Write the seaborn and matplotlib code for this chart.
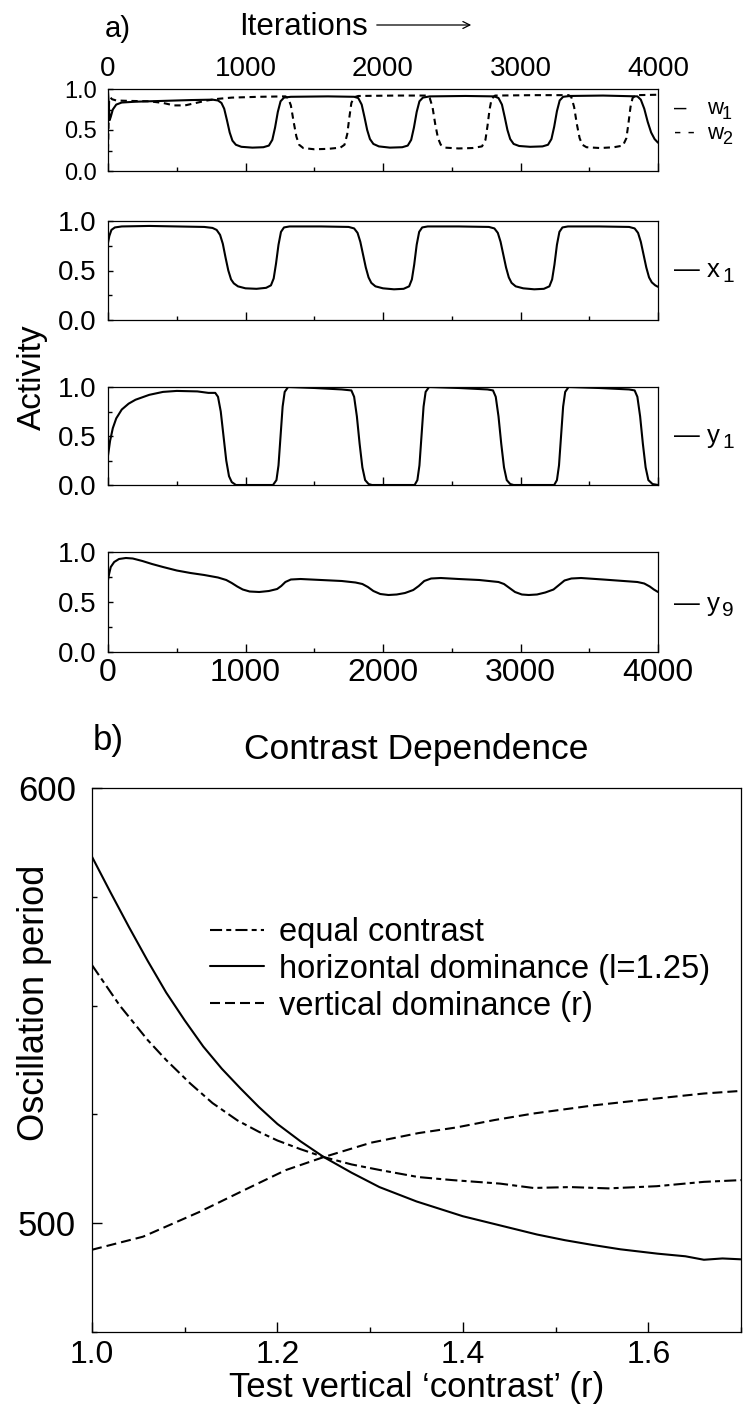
import matplotlib
matplotlib.use("Agg")
import matplotlib.pyplot as plt
from matplotlib.ticker import MultipleLocator, FormatStrFormatter
import seaborn as sns

# ---- panel a: activity traces (iteration, value) ----
w1_t = [0, 6, 12, 20, 35, 60, 100, 200, 400, 600, 760, 800, 825, 845, 865, 885, 905, 930, 970,
        1050, 1130, 1170, 1195, 1215, 1235, 1255, 1280, 1330, 1600, 1790, 1820, 1845, 1865, 1885,
        1905, 1930, 1970, 2050, 2140, 2180, 2205, 2225, 2245, 2265, 2290, 2340, 2600, 2810, 2840,
        2865, 2885, 2905, 2925, 2950, 2990, 3070, 3160, 3200, 3225, 3245, 3265, 3285, 3310, 3360,
        3600, 3850, 3875, 3900, 3925, 3950, 3975, 4000]
w1_v = [0.97, 0.80, 0.62, 0.66, 0.75, 0.81, 0.835, 0.845, 0.855, 0.865, 0.87, 0.86, 0.83, 0.76,
        0.62, 0.47, 0.37, 0.32, 0.295, 0.285, 0.29, 0.31, 0.38, 0.53, 0.72, 0.85, 0.895, 0.905,
        0.91, 0.905, 0.89, 0.81, 0.66, 0.50, 0.39, 0.33, 0.30, 0.285, 0.29, 0.31, 0.38, 0.53, 0.72,
        0.85, 0.895, 0.91, 0.915, 0.91, 0.89, 0.81, 0.66, 0.50, 0.39, 0.33, 0.305, 0.295, 0.30,
        0.32, 0.39, 0.54, 0.73, 0.86, 0.905, 0.915, 0.92, 0.91, 0.87, 0.76, 0.60, 0.47, 0.39, 0.345]

w2_t = [0, 4, 8, 15, 30, 60, 150, 300, 400, 480, 560, 640, 720, 800, 900, 1100, 1290, 1310, 1330,
        1350, 1370, 1390, 1420, 1500, 1600, 1690, 1720, 1740, 1755, 1770, 1790, 1820, 2100, 2320,
        2340, 2360, 2380, 2400, 2420, 2450, 2550, 2650, 2720, 2745, 2760, 2775, 2790, 2815, 3100,
        3350, 3370, 3390, 3410, 3430, 3450, 3480, 3580, 3680, 3745, 3770, 3785, 3800, 3815, 3840, 4000]
w2_v = [0.25, 0.55, 0.85, 0.90, 0.875, 0.86, 0.855, 0.85, 0.83, 0.80, 0.80, 0.83, 0.86, 0.88, 0.895,
        0.905, 0.91, 0.89, 0.80, 0.60, 0.42, 0.32, 0.28, 0.265, 0.27, 0.285, 0.32, 0.45, 0.65, 0.83,
        0.90, 0.915, 0.92, 0.92, 0.89, 0.78, 0.57, 0.40, 0.32, 0.285, 0.275, 0.28, 0.30, 0.38, 0.55,
        0.75, 0.88, 0.92, 0.925, 0.925, 0.90, 0.78, 0.57, 0.40, 0.32, 0.29, 0.28, 0.29, 0.31, 0.40,
        0.58, 0.78, 0.89, 0.925, 0.93]

x1_t = [0, 10, 25, 50, 100, 300, 500, 700, 760, 790, 815, 835, 855, 875, 895, 915, 945, 1000, 1080,
        1150, 1185, 1205, 1222, 1240, 1258, 1280, 1320, 1550, 1750, 1790, 1815, 1835, 1855, 1875,
        1895, 1915, 1945, 2000, 2080, 2150, 2190, 2210, 2227, 2245, 2263, 2285, 2325, 2550, 2770,
        2810, 2835, 2855, 2875, 2895, 2915, 2935, 2965, 3020, 3100, 3170, 3210, 3230, 3247, 3265,
        3283, 3305, 3345, 3570, 3790, 3830, 3855, 3875, 3895, 3915, 3935, 3955, 3980, 4000]
x1_v = [0.78, 0.85, 0.91, 0.935, 0.945, 0.95, 0.945, 0.94, 0.93, 0.91, 0.86, 0.77, 0.63, 0.50, 0.41,
        0.37, 0.34, 0.32, 0.315, 0.325, 0.35, 0.42, 0.57, 0.76, 0.89, 0.935, 0.945, 0.945, 0.94,
        0.925, 0.88, 0.79, 0.66, 0.53, 0.43, 0.375, 0.34, 0.32, 0.31, 0.315, 0.34, 0.41, 0.56, 0.76,
        0.89, 0.935, 0.945, 0.945, 0.94, 0.925, 0.88, 0.79, 0.66, 0.53, 0.43, 0.375, 0.34, 0.32,
        0.31, 0.315, 0.34, 0.41, 0.56, 0.76, 0.89, 0.935, 0.945, 0.945, 0.94, 0.925, 0.88, 0.79,
        0.66, 0.53, 0.43, 0.38, 0.35, 0.335]

y1_t = [0, 15, 35, 60, 100, 150, 200, 300, 400, 500, 650, 730, 780, 800, 820, 840, 860, 880, 900,
        930, 1200, 1225, 1240, 1255, 1270, 1285, 1310, 1500, 1700, 1770, 1790, 1810, 1830, 1850,
        1870, 1895, 1920, 2230, 2250, 2265, 2280, 2295, 2310, 2335, 2550, 2760, 2800, 2820, 2840,
        2860, 2880, 2900, 2925, 2950, 3245, 3265, 3280, 3295, 3310, 3325, 3350, 3570, 3790, 3830,
        3850, 3870, 3890, 3910, 3930, 3960, 4000]
y1_v = [0.30, 0.45, 0.58, 0.68, 0.77, 0.83, 0.87, 0.92, 0.95, 0.96, 0.955, 0.94, 0.94, 0.90, 0.75,
        0.50, 0.25, 0.09, 0.03, 0.0, 0.0, 0.05, 0.20, 0.50, 0.80, 0.95, 1.0, 0.99, 0.975, 0.965, 0.90,
        0.70, 0.42, 0.18, 0.05, 0.01, 0.0, 0.0, 0.05, 0.20, 0.50, 0.80, 0.95, 1.0, 0.99, 0.975, 0.965,
        0.90, 0.70, 0.42, 0.18, 0.05, 0.01, 0.0, 0.0, 0.05, 0.20, 0.50, 0.80, 0.95, 1.0, 0.99, 0.975,
        0.965, 0.90, 0.70, 0.42, 0.18, 0.05, 0.01, 0.0]

y9_t = [0, 8, 20, 45, 80, 130, 180, 250, 320, 400, 500, 600, 700, 800, 860, 900, 940, 980, 1030,
        1100, 1170, 1230, 1260, 1290, 1330, 1400, 1550, 1700, 1800, 1850, 1890, 1930, 1980, 2040,
        2100, 2160, 2220, 2260, 2300, 2350, 2420, 2550, 2700, 2840, 2880, 2920, 2960, 3010, 3060,
        3120, 3180, 3240, 3280, 3320, 3370, 3440, 3600, 3750, 3850, 3900, 3940, 3970, 4000]
y9_v = [0.72, 0.78, 0.85, 0.90, 0.93, 0.94, 0.935, 0.91, 0.88, 0.85, 0.815, 0.79, 0.77, 0.745,
        0.72, 0.69, 0.655, 0.625, 0.605, 0.60, 0.61, 0.63, 0.66, 0.70, 0.725, 0.73, 0.72, 0.71,
        0.695, 0.68, 0.65, 0.61, 0.58, 0.57, 0.575, 0.59, 0.62, 0.66, 0.71, 0.735, 0.74, 0.73,
        0.72, 0.70, 0.68, 0.64, 0.60, 0.575, 0.57, 0.575, 0.595, 0.625, 0.67, 0.715, 0.735, 0.74,
        0.725, 0.71, 0.70, 0.685, 0.655, 0.625, 0.60]

# ---- panel b: oscillation period vs test contrast ----
eq_r = [1.0, 1.03, 1.06, 1.08, 1.106, 1.13, 1.157, 1.18, 1.20, 1.225, 1.25, 1.28, 1.311, 1.352,
        1.389, 1.44, 1.476, 1.516, 1.557, 1.609, 1.66, 1.70]
eq_p = [559.3, 550.0, 542.1, 537.5, 532.1, 527.6, 523.6, 521.0, 519.0, 517.0, 515.2, 513.5, 512.2,
        510.6, 509.9, 509.1, 508.1, 508.3, 508.0, 508.5, 509.5, 509.9]

hor_r = [1.0, 1.02, 1.04, 1.06, 1.08, 1.10, 1.12, 1.14, 1.16, 1.18, 1.20, 1.225, 1.25, 1.28, 1.31,
         1.35, 1.40, 1.44, 1.48, 1.51, 1.54, 1.57, 1.61, 1.64, 1.66, 1.68, 1.70]
hor_p = [584.2, 576.0, 568.0, 560.3, 553.0, 546.6, 540.6, 535.5, 531.0, 526.7, 522.8, 518.8, 515.2,
         511.6, 508.3, 505.0, 501.6, 499.5, 497.4, 496.1, 495.0, 494.0, 493.0, 492.4, 491.6, 491.9,
         491.7]

ver_r = [1.0, 1.055, 1.116, 1.168, 1.209, 1.25, 1.301, 1.352, 1.393, 1.434, 1.476, 1.542, 1.593,
         1.66, 1.70]
ver_p = [493.9, 496.9, 502.6, 508.0, 512.2, 515.2, 518.5, 520.7, 522.0, 523.7, 525.2, 527.1, 528.3,
         529.8, 530.4]

sns.set_theme(style="ticks")
plt.rcParams["font.family"] = ["Liberation Sans", "DejaVu Sans"]
plt.rcParams.update({
    "axes.edgecolor": "black", "axes.linewidth": 0.9, "text.color": "black",
    "axes.labelcolor": "black", "xtick.color": "black", "ytick.color": "black",
})

W, H = 745, 1406
fig = plt.figure(figsize=(W / 100, H / 100), dpi=100)


def rect(left, top, right, bottom):
    return [left / W, 1 - bottom / H, (right - left) / W, (bottom - top) / H]


def fx(px):
    return px / W


def fy(py):
    return 1 - py / H


SOLID = "-"
W_DASH = (0, (3.0, 2.2))

panels = [
    (rect(108, 89, 658, 171), [(w1_t, w1_v, SOLID), (w2_t, w2_v, W_DASH)], 17),
    (rect(108, 221, 658, 320), [(x1_t, x1_v, SOLID)], 20),
    (rect(108, 387, 658, 485), [(y1_t, y1_v, SOLID)], 20),
    (rect(108, 552, 658, 652), [(y9_t, y9_v, SOLID)], 20),
]

for i, (pos, curves, ysize) in enumerate(panels):
    ax = fig.add_axes(pos)
    for t, v, ls in curves:
        sns.lineplot(x=t, y=v, ax=ax, color="black", lw=1.5, linestyle=ls,
                     estimator=None, sort=False)
    ax.set_xlim(0, 4000)
    ax.set_ylim(0, 1)
    ax.xaxis.set_major_locator(MultipleLocator(1000))
    ax.xaxis.set_minor_locator(MultipleLocator(500))
    ax.yaxis.set_major_locator(MultipleLocator(0.5))
    ax.yaxis.set_minor_locator(MultipleLocator(0.25))
    ax.yaxis.set_major_formatter(FormatStrFormatter("%.1f"))
    ax.tick_params(which="both", direction="in", top=False, right=False)
    ax.tick_params(axis="x", which="major", length=6, width=1)
    ax.tick_params(axis="x", which="minor", length=3, width=1)
    ax.tick_params(axis="y", which="major", length=3.5, width=1, labelsize=ysize, pad=8)
    ax.tick_params(axis="y", which="minor", length=3, width=1)
    if i == 0:
        ax.tick_params(axis="x", labeltop=True, labelbottom=False, labelsize=20, pad=5)
    elif i == 3:
        ax.tick_params(axis="x", labelsize=23, pad=4)
    else:
        ax.tick_params(axis="x", labelbottom=False)
    ax.set_xlabel("")
    ax.set_ylabel("")

# curve names on the right of panel a: (dash, letter, subscript, baseline px, size, sub size)
names = [("–", "w", "1", 114, 16, 13), ("- -", "w", "2", 139, 16, 13),
         ("—", "x", "1", 277, 18.5, 15), ("—", "y", "1", 443.5, 18.5, 15),
         ("—", "y", "9", 611, 18.5, 15)]
for dash, letter, sub, base, size, subsize in names:
    fig.text(fx(674), fy(base), dash, fontsize=size, va="baseline", ha="left")
    fig.text(fx(707), fy(base), letter, fontsize=size, va="baseline", ha="left")
    fig.text(fx(722), fy(base + 5), sub, fontsize=subsize, va="baseline", ha="left")

fig.text(fx(105), fy(37), "a)", fontsize=21, va="baseline", ha="left")
fig.text(fx(239), fy(35), "Iterations", fontsize=22.5, va="baseline", ha="left")
fig.add_artist(matplotlib.patches.FancyArrowPatch(
    (fx(374), fy(25)), (fx(474), fy(25)), transform=fig.transFigure,
    arrowstyle="->,head_length=5,head_width=2.5", lw=0.9, color="black"))
fig.text(fx(32), fy(377), "Activity", fontsize=24, rotation=90, ha="center", va="center")

# ---- panel b ----
axb = fig.add_axes(rect(92, 788, 741, 1332))
sns.lineplot(x=eq_r, y=eq_p, ax=axb, color="black", lw=1.5, linestyle=(0, (5.8, 2.0, 2.4, 2.0)),
             estimator=None, sort=False, label="equal contrast")
sns.lineplot(x=hor_r, y=hor_p, ax=axb, color="black", lw=1.5, linestyle="-",
             estimator=None, sort=False, label="horizontal dominance (l=1.25)")
sns.lineplot(x=ver_r, y=ver_p, ax=axb, color="black", lw=1.5, linestyle=(0, (4.8, 2.4)),
             estimator=None, sort=False, label="vertical dominance (r)")
axb.set_xlim(1.0, 1.7)
axb.set_ylim(475, 600)
axb.xaxis.set_major_locator(MultipleLocator(0.2))
axb.xaxis.set_minor_locator(MultipleLocator(0.1))
axb.xaxis.set_major_formatter(FormatStrFormatter("%.1f"))
axb.yaxis.set_major_locator(MultipleLocator(100))
axb.yaxis.set_minor_locator(MultipleLocator(25))
axb.tick_params(which="both", direction="in", top=False, right=False, width=1)
axb.tick_params(which="major", length=7)
axb.tick_params(which="minor", length=3.5)
axb.tick_params(axis="x", labelsize=23, pad=6)
axb.tick_params(axis="y", labelsize=25, pad=11.5)
axb.set_title("Contrast Dependence", fontsize=25.5, pad=21)
axb.set_xlabel("Test vertical ‘contrast’ (r)", fontsize=25)
axb.xaxis.set_label_coords(0.5, -0.071)
axb.set_ylabel("Oscillation period", fontsize=26)
axb.yaxis.set_label_coords(-0.062, 0.605)
axb.legend(loc="upper left", bbox_to_anchor=(0.182, 0.763), frameon=False, fontsize=23.5,
           handlelength=1.66, handletextpad=0.46, labelspacing=0.18, borderpad=0,
           borderaxespad=0)
fig.text(fx(93), fy(750), "b)", fontsize=25, va="baseline", ha="left")

fig.savefig("out.png", dpi=100)
